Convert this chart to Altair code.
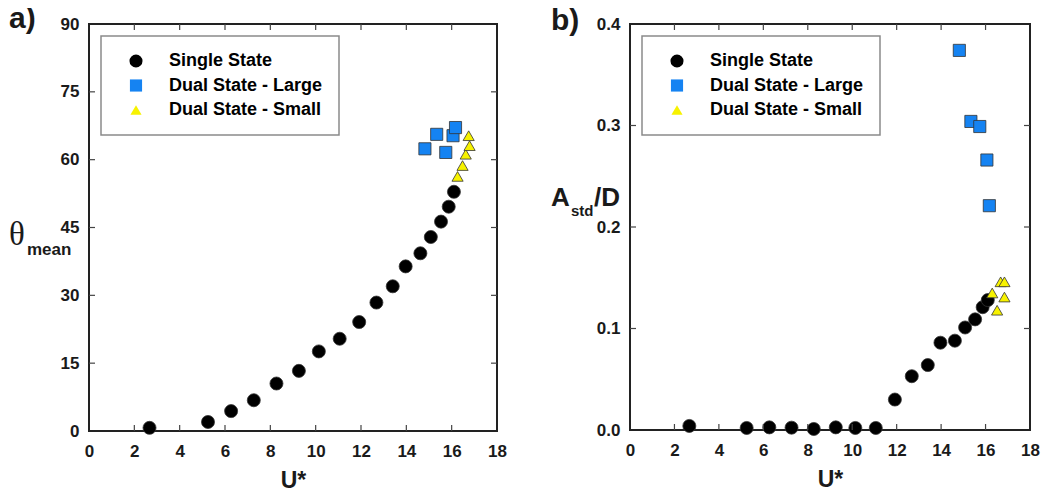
import altair as alt
import pandas as pd

SERIES = ["Single State", "Dual State - Large", "Dual State - Small"]

# Single state
u_single = [2.67, 5.25, 6.27, 7.27, 8.27, 9.26, 10.14, 11.06, 11.92, 12.68,
            13.40, 13.97, 14.62, 15.08, 15.53, 15.87, 16.10]
theta_single = [0.7, 2.0, 4.4, 6.8, 10.5, 13.3, 17.6, 20.4, 24.1, 28.4,
                32.0, 36.4, 39.3, 42.9, 46.3, 49.6, 52.9]
astd_single = [0.004, 0.002, 0.0026, 0.0023, 0.001, 0.0026, 0.002, 0.002, 0.030, 0.053,
               0.064, 0.086, 0.088, 0.101, 0.109, 0.121, 0.128]

# Dual state - large
u_large = [14.82, 15.34, 15.74, 16.06, 16.17]
theta_large = [62.4, 65.6, 61.6, 65.3, 67.1]
astd_large = [0.374, 0.304, 0.299, 0.266, 0.221]

# Dual state - small
u_small_a = [16.26, 16.48, 16.62, 16.79, 16.75]
theta_small = [56.3, 58.7, 61.2, 63.1, 65.3]
u_small_b = [16.30, 16.52, 16.68, 16.85, 16.85]
astd_small = [0.135, 0.118, 0.146, 0.131, 0.146]

X_TICKS = [2, 4, 6, 8, 10, 12, 14, 16]
X_LABELS = [0, 2, 4, 6, 8, 10, 12, 14, 16, 18]
YA_TICKS = [15, 30, 45, 60, 75]
YA_LABELS = [0, 15, 30, 45, 60, 75, 90]
YB_TICKS = [0.1, 0.2, 0.3]
YB_LABELS = [0.0, 0.1, 0.2, 0.3, 0.4]

FONT = "Liberation Sans"
TXT = "#1a1a1a"
TICK = "#444444"


def frame_df(u_lists, v_lists):
    rows = []
    for s, us, vs in zip(SERIES, u_lists, v_lists):
        for u, v in zip(us, vs):
            rows.append({"U": u, "v": v, "series": s})
    return pd.DataFrame(rows)


df_a = frame_df([u_single, u_large, u_small_a], [theta_single, theta_large, theta_small])
df_b = frame_df([u_single, u_large, u_small_b], [astd_single, astd_large, astd_small])

shape_scale = alt.Scale(domain=SERIES, range=["circle", "square", "triangle-up"])
fill_scale = alt.Scale(domain=SERIES, range=["#000000", "#1583f2", "#f7f200"])
size_scale = alt.Scale(domain=SERIES, range=[170, 125, 240])


def make_legend():
    return alt.Legend(
        title=None, orient="none", legendX=12, legendY=12,
        padding=16, strokeColor="#8a8a8a", fillColor="white",
        labelFont=FONT, labelFontSize=18, labelFontWeight="bold",
        labelColor="black", symbolOffset=10, labelOffset=24, rowPadding=6.5,
        symbolStrokeColor="#333333", symbolStrokeWidth=0.8, labelLimit=400,
        symbolOpacity=1,
    )


def panel(df, W, H, ydomain, ylabels, yticks, yfmt, texts):
    xaxis = alt.Axis(values=X_LABELS, title="U*", ticks=False, tickSize=0, domain=False, grid=False,
                     labelFont=FONT, labelFontSize=17, labelFontWeight="bold", labelColor=TXT,
                     labelPadding=12, labelFlush=False, labelOverlap=False,
                     titleFont=FONT, titleFontSize=23, titleFontWeight="bold", titleColor=TXT,
                     titlePadding=10)
    yaxis = alt.Axis(values=ylabels, title=None, ticks=False, tickSize=0, domain=False, grid=False,
                     labelFont=FONT, labelFontSize=17, labelFontWeight="bold", labelColor=TXT,
                     labelPadding=10, labelFlush=False, labelOverlap=False, format=yfmt)
    xs = alt.Scale(domain=[0, 18], nice=False, zero=False)
    ys = alt.Scale(domain=ydomain, nice=False, zero=False)

    pts = alt.Chart(df).mark_point(filled=True, opacity=1, stroke="#333333", strokeWidth=0.8).encode(
        x=alt.X("U:Q", scale=xs, axis=xaxis),
        y=alt.Y("v:Q", scale=ys, axis=yaxis),
        shape=alt.Shape("series:N", scale=shape_scale, legend=make_legend()),
        fill=alt.Fill("series:N", scale=fill_scale, legend=make_legend()),
        size=alt.Size("series:N", scale=size_scale, legend=make_legend()),
    )

    xt = pd.DataFrame({"t": X_TICKS})
    yt = pd.DataFrame({"t": yticks})
    rule = dict(color=TICK, strokeWidth=1.2)
    tb = alt.Chart(xt).mark_rule(**rule).encode(
        x=alt.X("t:Q", scale=xs), y=alt.value(H), y2=alt.value(H - 6))
    tt = alt.Chart(xt).mark_rule(**rule).encode(
        x=alt.X("t:Q", scale=xs), y=alt.value(0), y2=alt.value(6))
    tl = alt.Chart(yt).mark_rule(**rule).encode(
        y=alt.Y("t:Q", scale=ys), x=alt.value(0), x2=alt.value(6))
    tr = alt.Chart(yt).mark_rule(**rule).encode(
        y=alt.Y("t:Q", scale=ys), x=alt.value(W), x2=alt.value(W - 6))

    layers = [pts, tb, tt, tl, tr]
    for (s, x, y, font, size, weight) in texts:
        layers.append(
            alt.Chart(pd.DataFrame({"s": [s]})).mark_text(
                font=font, fontSize=size, fontWeight=weight, color=TXT,
                align="left", baseline="alphabetic").encode(
                text="s:N", x=alt.value(x), y=alt.value(y))
        )
    return alt.layer(*layers).properties(width=W, height=H)


left = panel(df_a, 408, 407, [0, 90], YA_LABELS, YA_TICKS, "d", [
    ("a)", -80, 4, FONT, 30, "bold"),
    ("θ", -80, 221, "Liberation Serif", 33, "normal"),
    ("mean", -62, 231, FONT, 17, "bold"),
])
right = panel(df_b, 400, 406, [0, 0.4], YB_LABELS, YB_TICKS, ".1f", [
    ("b)", -79, 6, FONT, 30, "bold"),
    ("A", -79, 182, FONT, 26, "bold"),
    ("std", -59, 192, FONT, 15, "bold"),
    ("/D", -36, 182, FONT, 26, "bold"),
])

chart = alt.hconcat(left, right, spacing=133, bounds="flush").resolve_scale(
    shape="independent", fill="independent", size="independent"
).resolve_legend(shape="independent", fill="independent", size="independent").properties(
    padding={"left": 0, "top": -5, "right": 0, "bottom": 0}, background="white"
).configure_view(stroke="#222222", strokeWidth=2).configure_legend(
    strokeWidth=1.5, cornerRadius=0
)

chart.save("out.html", embed_options={"renderer": "svg", "actions": False})
